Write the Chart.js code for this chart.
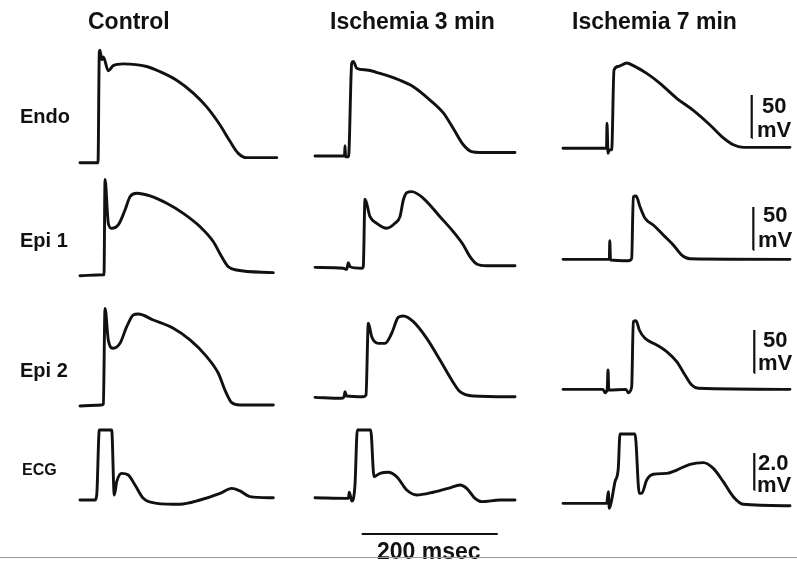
<!DOCTYPE html>
<html>
<head>
<meta charset="utf-8">
<script src="https://cdn.jsdelivr.net/npm/chart.js@4.4.1/dist/chart.umd.min.js"></script>
<style>
  body { margin: 0; background: #fff; }
  #wrap {
    position: relative; width: 797px; height: 562px; overflow: hidden;
    font-family: "Liberation Sans", Arial, sans-serif; font-weight: bold; color: #111;
  }
  #wrap canvas { position: absolute; left: 0; top: 0; }
  .lbl { position: absolute; line-height: 1; white-space: nowrap; }
  .title { font-size: 23px; top: 10px; }
  .row { font-size: 20px; left: 20px; }
  .bar { font-size: 22px; }
  .rule { position: absolute; left: 0; top: 557px; width: 797px; height: 1px; background: #9a9a9a; }
</style>
</head>
<body>
<div id="wrap">
  <canvas id="traces" width="797" height="562"></canvas>

  <div class="lbl title" style="left:88px">Control</div>
  <div class="lbl title" style="left:330px">Ischemia 3 min</div>
  <div class="lbl title" style="left:572px">Ischemia 7 min</div>

  <div class="lbl row" style="top:106px">Endo</div>
  <div class="lbl row" style="top:230px">Epi 1</div>
  <div class="lbl row" style="top:360px">Epi 2</div>
  <div class="lbl row" style="top:462px;left:22px;font-size:16px">ECG</div>

  <div class="lbl bar" style="left:762px;top:95px">50</div>
  <div class="lbl bar" style="left:757px;top:119px">mV</div>
  <div class="lbl bar" style="left:763px;top:204px">50</div>
  <div class="lbl bar" style="left:758px;top:229px">mV</div>
  <div class="lbl bar" style="left:763px;top:329px">50</div>
  <div class="lbl bar" style="left:758px;top:352px">mV</div>
  <div class="lbl bar" style="left:758px;top:452px">2.0</div>
  <div class="lbl bar" style="left:757px;top:474px">mV</div>

  <div class="lbl" style="left:377px;top:540px;font-size:23px">200 msec</div>
  <div class="rule"></div>
</div>

<script>
"use strict";

// ====
// Data
// ====
// Each sweep is [time (msec from sweep start), potential (mV)].

const endoControl = [[0,-87],[26.5,-87],[28.4,42],[29.4,44],[31.9,33],[34.3,36],[41.6,20],[48.9,26],[63.7,28],[98.1,25],[117.6,19],[142.2,9],[166.6,-6],[186.3,-22],[205.9,-43],[220.6,-62],[232.8,-76],[245.1,-81],[289.3,-81]];
const endoIsch3 = [[0,-79],[43.4,-79],[44.1,-67],[45,-80],[49.3,-80],[54,29],[56.3,31],[61.3,23],[76,21],[95.6,17],[125,9],[144.6,1.5],[169.1,-14],[188.7,-29],[203.4,-47],[218.1,-66],[230.4,-74],[242.6,-75],[294.1,-75]];
const endoIsch7 = [[0,-70],[64,-70],[64.7,-41],[66.2,-76],[68,-72],[71.6,-72],[75,21],[81.3,25],[93.7,29],[103.4,26],[123.1,17],[142.6,5.5],[167.2,-12],[191.6,-26],[216.2,-43],[235.7,-58],[250.4,-66],[265.1,-69],[333.8,-69]];

const epi1Control = [[0,-88],[34.3,-87],[35.3,-87],[36.8,24],[41.6,-27],[46.6,-33],[56.3,-29],[66.2,-11.6],[73.5,3.8],[83.4,7.8],[102.9,4.7],[127.5,-3.8],[151.9,-15.5],[176.5,-31],[196.1,-48.5],[208.4,-66],[218.1,-77.6],[230.4,-81.4],[284.3,-84.5]];
const epi1Isch3 = [[0,-78.3],[41.6,-79.4],[46.6,-80.6],[49,-72.9],[51.5,-77.6],[68.7,-79.4],[71,-77.6],[73.5,0.8],[80.9,-19.4],[90.7,-27.1],[105.4,-32.9],[117.6,-27.1],[125,-19.4],[129.9,0],[134.9,8.5],[142.2,9.7],[159.3,2],[183.8,-19.4],[203.4,-36.9],[218.1,-52.3],[227.9,-65.9],[237.8,-74.4],[252.5,-76.4],[294.1,-76.4]];
const epi1Isch7 = [[0,-69],[68.1,-69],[68.8,-47.3],[69.9,-69.8],[96,-70.6],[101,-67.8],[103.4,3.8],[107.4,4.7],[113.2,-7.8],[120.6,-21.3],[132.8,-29.1],[147.5,-40.7],[162.2,-52.3],[174.6,-64],[186.8,-68.3],[333.8,-69]];

const epi2Control = [[0,-88.4],[31.9,-87.2],[34.3,-86],[36.8,25.2],[41.6,-11.6],[48.9,-21.3],[58.8,-15.5],[68.7,3.8],[78.4,17.4],[85.7,18.6],[107.8,11.6],[137.2,2],[161.8,-11.6],[186.3,-31],[203.4,-50.3],[213.2,-69.8],[223.1,-84.5],[235.3,-87.2],[284.3,-87.2]];
const epi2Isch3 = [[0,-78.3],[39.3,-79.4],[42.6,-78],[44.1,-71.7],[46.6,-76.7],[71,-77.6],[75,-75.6],[78.4,7.8],[83.4,-7.8],[93.1,-15.5],[102.9,-15.5],[112.8,-3.8],[122.5,14.8],[129.9,16.3],[144.6,9.7],[164.3,-9.7],[183.8,-34.9],[201,-58.1],[213.2,-71.7],[232.8,-76.7],[294.1,-77.6]];
const epi2Isch7 = [[0,-69],[58.8,-69],[61.8,-72.9],[65,-69],[66.2,-46.5],[67.4,-69.8],[92.6,-69],[96,-72.9],[101,-65.9],[103.4,9.7],[107.4,10.8],[112.2,0],[120.6,-9.7],[137.8,-17.4],[152.5,-25.2],[167.2,-36.9],[179.4,-52.3],[189.3,-64],[199,-67.8],[333.8,-69]];

const ecgControl = [[0,0],[22.1,0],[24.6,0.27],[28.4,3.78],[46.6,3.78],[50.4,0.27],[54,0.99],[61.3,1.44],[71,1.35],[80.9,0.81],[93.1,0.09],[112.8,-0.18],[147.1,-0.23],[176.5,0],[205.9,0.36],[223.1,0.63],[235.3,0.49],[250,0.18],[284.3,0.12]];
const ecgIsch3 = [[0,0.12],[49,0.09],[50.4,0.42],[54,-0.05],[58.8,0.81],[62.2,3.78],[81.9,3.78],[86.8,1.26],[95.6,1.44],[107.8,1.5],[120.1,1.26],[134.9,0.54],[149.6,0.27],[174,0.42],[198.5,0.66],[213.2,0.81],[223.1,0.63],[235.3,0.09],[245.1,-0.09],[272.1,0],[294.1,0]];
const ecgIsch7 = [[0,-0.18],[64.3,-0.18],[66.6,0.45],[68.1,-0.45],[71.6,0],[76.5,0.99],[81.3,1.71],[83.8,3.57],[105.9,3.57],[112.2,0.36],[115.7,0.36],[123.1,1.08],[132.8,1.39],[152.5,1.44],[167.2,1.62],[186.8,1.93],[206.3,2.02],[221,1.71],[235.7,0.99],[250.4,0.18],[265.1,-0.23],[333.8,-0.31]];

// calibration bars
const TIME_BAR_MS = 200;
const AP_BAR_MV = 50;
const ECG_BAR_MV = 2.0;

// ======
// Layout
// ======
const W = 797, H = 562;
const PX_PER_MS = 0.68;
const COL_LEFT = [80, 315, 563];          // page x of t = 0 in each column
const ROW_ZERO = [88, 200, 330, 500];     // page y of 0 mV in each row
const ROW_PX_PER_MV = [0.86, 0.86, 0.86, 18.5];

// where the calibration bars sit: [msec, mV at the lower end]
const V_BAR_AT = [[277.5, -58], [279.9, -58], [281.3, -50], [281.3, 0.54]];
const T_BAR_AT = [68.7, -1.84];           // column 2 time axis, ECG row units

const sweeps = [
  [endoControl, endoIsch3, endoIsch7],
  [epi1Control, epi1Isch3, epi1Isch7],
  [epi2Control, epi2Isch3, epi2Isch7],
  [ecgControl, ecgIsch3, ecgIsch7],
];

// ========
// Datasets
// ========
const toPoints = (pairs) => pairs.map(([t, v]) => ({ x: t, y: v }));

const datasets = [];
sweeps.forEach((row, r) => {
  row.forEach((sweep, c) => {
    datasets.push({
      data: toPoints(sweep),
      xAxisID: "x" + c,
      yAxisID: "y" + r,
      borderColor: "#111",
      borderWidth: 2.9,
      pointRadius: 0,
      cubicInterpolationMode: "monotone",
      borderJoinStyle: "round",
      borderCapStyle: "round",
    });
  });
});

V_BAR_AT.forEach(([t, v0], r) => {
  const len = r === 3 ? ECG_BAR_MV : AP_BAR_MV;
  datasets.push({
    data: [{ x: t, y: v0 }, { x: t + 0.01, y: v0 + len }],
    xAxisID: "x2",
    yAxisID: "y" + r,
    borderColor: "#111",
    borderWidth: 2.2,
    pointRadius: 0,
  });
});

datasets.push({
  data: [{ x: T_BAR_AT[0], y: T_BAR_AT[1] }, { x: T_BAR_AT[0] + TIME_BAR_MS, y: T_BAR_AT[1] }],
  xAxisID: "x1",
  yAxisID: "y3",
  borderColor: "#111",
  borderWidth: 2,
  pointRadius: 0,
});

// ======
// Scales
// ======
// Hidden axes that span the whole canvas, one per column (msec) and row (mV).
const scales = {};
COL_LEFT.forEach((left, c) => {
  scales["x" + c] = {
    type: "linear",
    display: false,
    bounds: "data",
    min: -left / PX_PER_MS,
    max: (W - left) / PX_PER_MS,
  };
});
ROW_ZERO.forEach((zero, r) => {
  scales["y" + r] = {
    type: "linear",
    display: false,
    bounds: "data",
    min: (zero - H) / ROW_PX_PER_MV[r],
    max: zero / ROW_PX_PER_MV[r],
  };
});

new Chart(document.getElementById("traces"), {
  type: "line",
  data: { datasets },
  options: {
    responsive: false,
    maintainAspectRatio: false,
    animation: false,
    layout: { padding: 0 },
    scales,
    plugins: {
      legend: { display: false },
      tooltip: { enabled: false },
    },
  },
});
</script>
</body>
</html>
